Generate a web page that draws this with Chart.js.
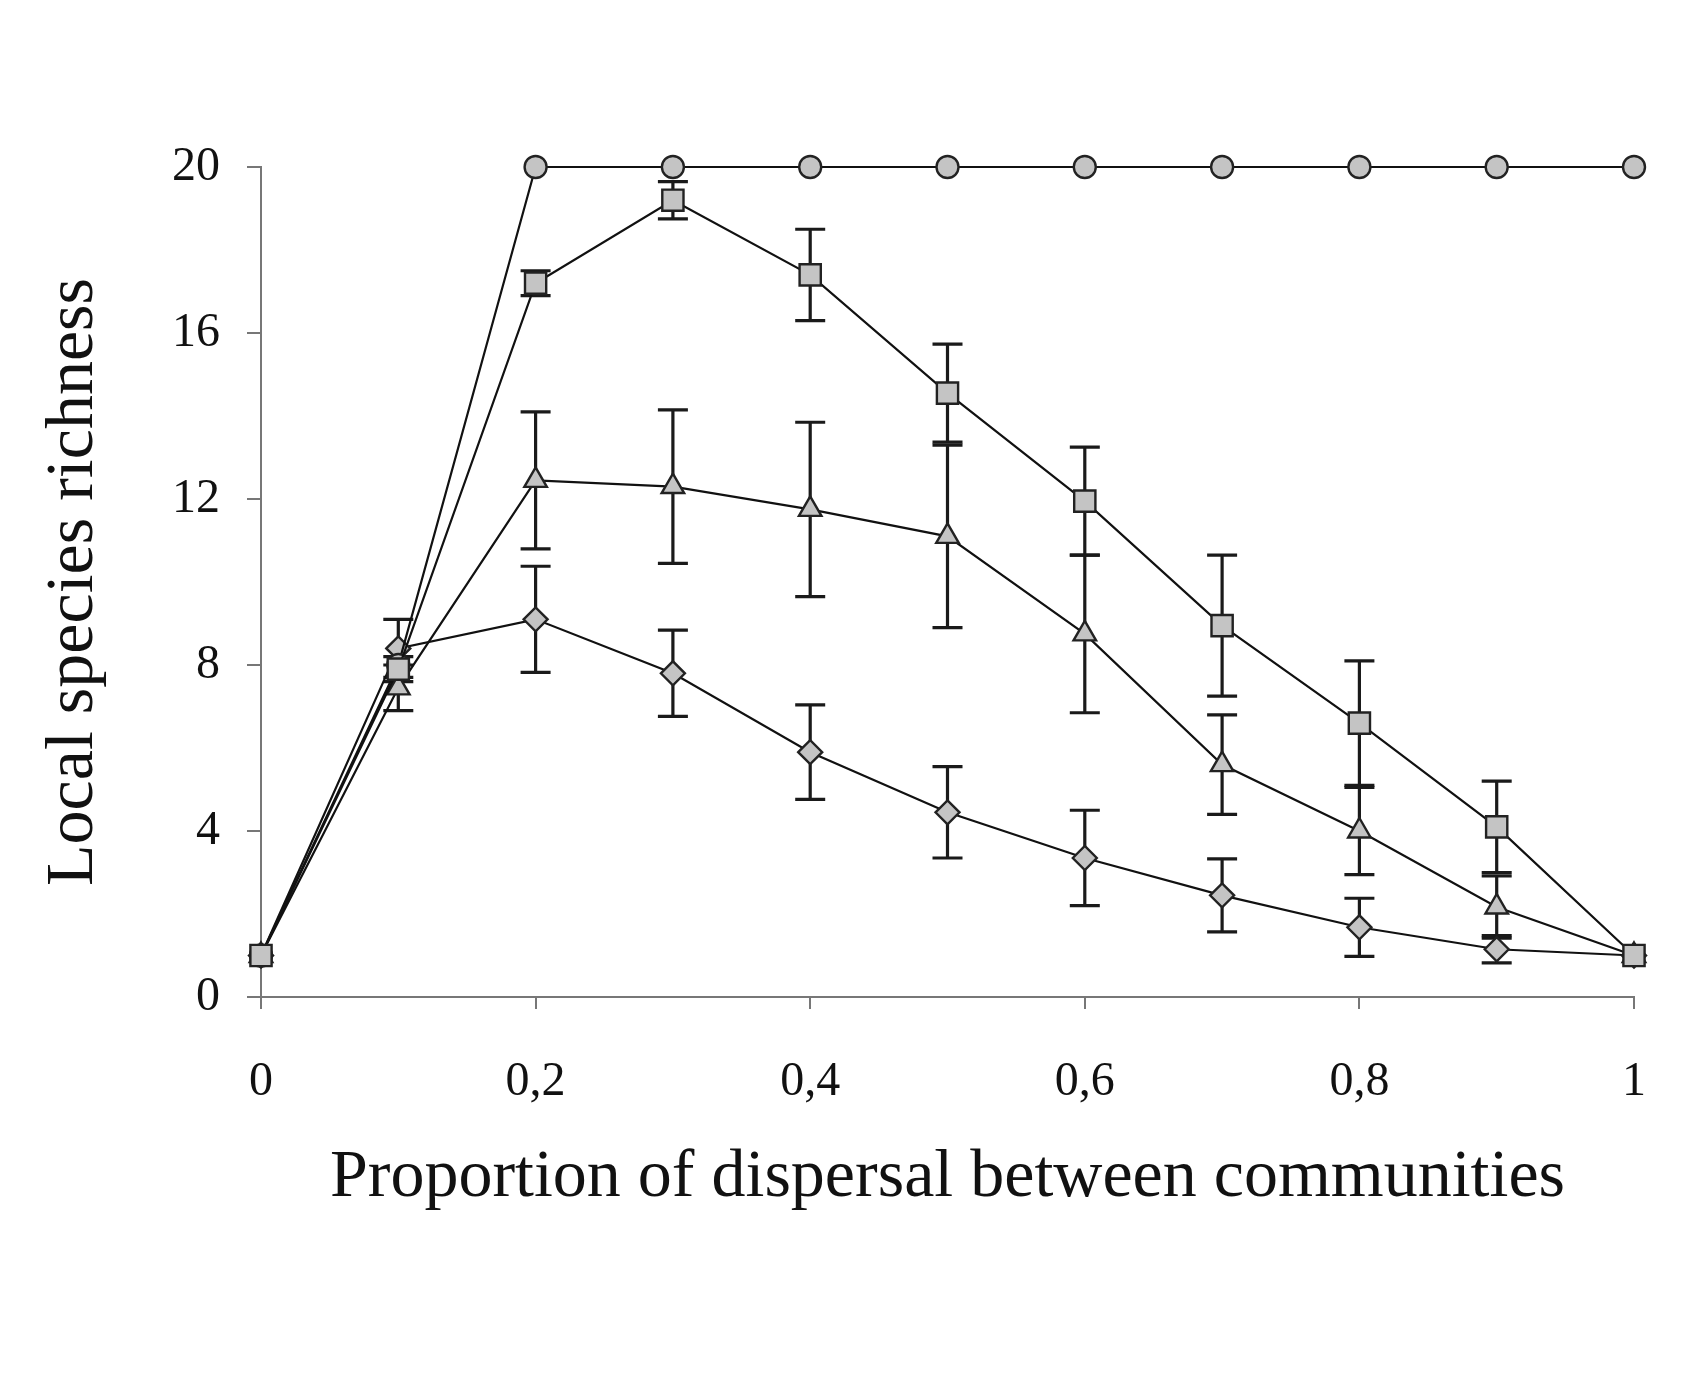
<!DOCTYPE html>
<html>
<head>
<meta charset="utf-8">
<title>Local species richness</title>
<script src="https://cdn.jsdelivr.net/npm/chart.js@4.4.1/dist/chart.umd.min.js"></script>
<style>
    html, body { margin: 0; padding: 0; background: #fff; }
    #wrap { width: 1708px; height: 1384px; }
</style>
</head>
<body>
<div id="wrap"><canvas id="richnessChart" width="1708" height="1384"></canvas></div>
<script>
// Proportion of dispersal (x) and tick labels
const dispersal = [0, 0.1, 0.2, 0.3, 0.4, 0.5, 0.6, 0.7, 0.8, 0.9, 1];
const xTicks = [0, 0.2, 0.4, 0.6, 0.8, 1];
const yTicks = [0, 4, 8, 12, 16, 20];

// Series values (mean and +/- error)
const circleMean = [1, 8.0, 20, 20, 20, 20, 20, 20, 20, 20, 20];
const squareMean = [1, 7.9, 17.2, 19.2, 17.4, 14.55, 11.95, 8.95, 6.6, 4.1, 1];
const squareErr = [0, 0.3, 0.3, 0.45, 1.1, 1.18, 1.3, 1.7, 1.5, 1.1, 0];
const triangleMean = [1, 7.45, 12.45, 12.3, 11.75, 11.1, 8.75, 5.6, 4.0, 2.17, 1];
const triangleErr = [0, 0.55, 1.65, 1.85, 2.1, 2.2, 1.9, 1.2, 1.05, 0.75, 0];
const diamondMean = [1, 8.4, 9.1, 7.8, 5.9, 4.45, 3.35, 2.45, 1.68, 1.15, 1];
const diamondErr = [0, 0.7, 1.28, 1.04, 1.14, 1.1, 1.15, 0.88, 0.7, 0.33, 0];

const serif = '"Liberation Serif", "Times New Roman", serif';
const markerFill = '#c4c4c4';
const markerEdge = '#222';

function toPoints(values) {
    return dispersal.map((x, i) => ({ x: x, y: values[i] }));
}

function series(label, values, errors, style, radius) {
    return {
        label: label,
        data: toPoints(values),
        errors: errors,
        borderColor: '#111',
        borderWidth: 2.2,
        pointStyle: style,
        pointRadius: radius,
        pointBackgroundColor: markerFill,
        pointBorderColor: markerEdge,
        pointBorderWidth: 2.4,
        tension: 0,
        clip: false
    };
}

// Draws vertical error bars with caps, behind the lines and markers
const errorBars = {
    id: 'errorBars',
    beforeDatasetsDraw(chart) {
        const ctx = chart.ctx;
        const xs = chart.scales.x;
        const ys = chart.scales.y;
        ctx.save();
        ctx.strokeStyle = '#1a1a1a';
        ctx.lineWidth = 3.2;
        chart.data.datasets.forEach(ds => {
            if (!ds.errors) return;
            ds.data.forEach((p, i) => {
                const e = ds.errors[i];
                if (!e) return;
                const px = xs.getPixelForValue(p.x);
                const top = ys.getPixelForValue(p.y + e);
                const bot = ys.getPixelForValue(p.y - e);
                ctx.beginPath();
                ctx.moveTo(px, top);
                ctx.lineTo(px, bot);
                ctx.moveTo(px - 15, top);
                ctx.lineTo(px + 15, top);
                ctx.moveTo(px - 15, bot);
                ctx.lineTo(px + 15, bot);
                ctx.stroke();
            });
        });
        ctx.restore();
    }
};

const ctx = document.getElementById('richnessChart').getContext('2d');
const richnessChart = new Chart(ctx, {
    type: 'line',
    data: {
        datasets: [
            series('Squares', squareMean, squareErr, 'rect', 15),
            series('Circles', circleMean, null, 'circle', 11),
            series('Triangles', triangleMean, triangleErr, 'triangle', 13),
            series('Diamonds', diamondMean, diamondErr, 'rectRot', 12)
        ]
    },
    options: {
        responsive: false,
        devicePixelRatio: 1,
        animation: false,
        layout: {
            padding: { left: 0, right: 74, top: 167, bottom: 0 }
        },
        plugins: {
            legend: { display: false },
            tooltip: { enabled: false }
        },
        scales: {
            x: {
                type: 'linear',
                min: 0,
                max: 1,
                afterBuildTicks: scale => {
                    scale.ticks = xTicks.map(v => ({ value: v }));
                },
                afterFit: scale => { scale.height = 387; },
                ticks: {
                    padding: 45,
                    color: '#111',
                    font: { family: serif, size: 48 },
                    callback: v => String(v).replace('.', ',')
                },
                grid: {
                    drawOnChartArea: false,
                    drawTicks: true,
                    tickLength: 12,
                    color: '#777',
                    lineWidth: 2
                },
                border: { display: true, color: '#777', width: 2 },
                title: {
                    display: true,
                    text: 'Proportion of dispersal between communities',
                    color: '#111',
                    font: { family: serif, size: 68 },
                    padding: { top: 0, bottom: 165 }
                }
            },
            y: {
                type: 'linear',
                min: 0,
                max: 20,
                afterBuildTicks: scale => {
                    scale.ticks = yTicks.map(v => ({ value: v }));
                },
                afterFit: scale => { scale.width = 261; },
                ticks: {
                    padding: 27,
                    color: '#111',
                    font: { family: serif, size: 48 }
                },
                grid: {
                    drawOnChartArea: false,
                    drawTicks: true,
                    tickLength: 14,
                    color: '#777',
                    lineWidth: 2
                },
                border: { display: true, color: '#777', width: 2 },
                title: {
                    display: true,
                    text: 'Local species richness',
                    color: '#111',
                    font: { family: serif, size: 68 },
                    padding: { top: 33, bottom: 0 }
                }
            }
        }
    },
    plugins: [errorBars]
});
</script>
</body>
</html>
